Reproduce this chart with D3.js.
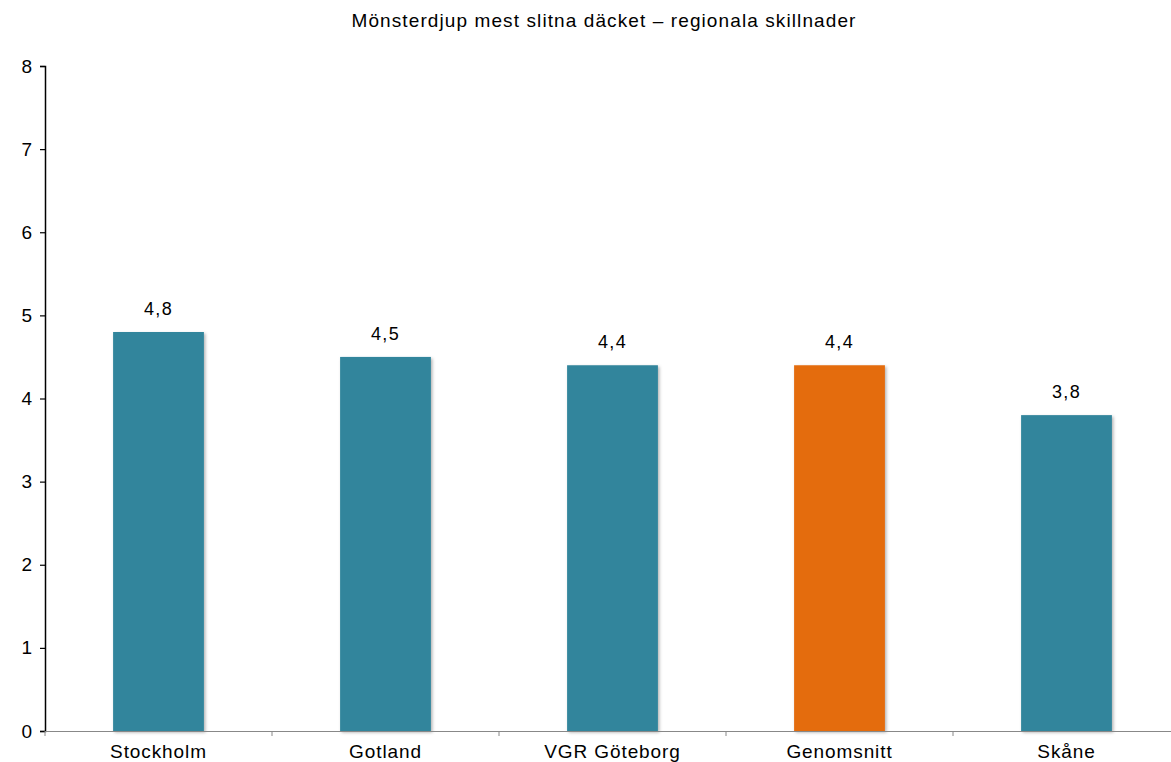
<!DOCTYPE html>
<html><head><meta charset="utf-8">
<script src="https://cdn.jsdelivr.net/npm/d3@7"></script>
<style>body{margin:0;background:#fff}svg{display:block}text{font-family:"Liberation Sans",Arial,sans-serif;fill:#000}</style>
</head><body>
<svg id="c" width="1171" height="762"></svg>
<script>
const categories = ["Stockholm","Gotland","VGR Göteborg","Genomsnitt","Skåne"];
const values = [4.8,4.5,4.4,4.4,3.8];
const labels = ["4,8","4,5","4,4","4,4","3,8"];
const highlight = ["Genomsnitt"];
const yTicks = [0,1,2,3,4,5,6,7,8];
const title = "Mönsterdjup mest slitna däcket – regionala skillnader";

const svg = d3.select("#c");
const defs = svg.append("defs");
const f = defs.append("filter").attr("id","sh").attr("x","-20%").attr("y","-20%").attr("width","140%").attr("height","140%");
f.append("feDropShadow").attr("dx",1.5).attr("dy",1.5).attr("stdDeviation",1.5).attr("flood-color","#000").attr("flood-opacity",0.3);

const x = d3.scaleBand().domain(categories).range([45,1180]).paddingInner(0.6).paddingOuter(0.3);
const y = d3.scaleLinear().domain([0,8]).range([731,66]);

svg.append("text").attr("x",604).attr("y",27).attr("text-anchor","middle").attr("font-size",19).attr("letter-spacing",1.1).text(title);

// y axis
const ya = svg.append("g").attr("transform","translate(45,0)").call(d3.axisLeft(y).tickValues(yTicks).tickSize(5).tickPadding(8));
ya.selectAll("text").attr("font-size",19).attr("font-family","Liberation Sans, Arial, sans-serif");
ya.select(".domain").attr("stroke","#000").attr("stroke-width",1.5);
ya.selectAll(".tick line").attr("stroke","#000").attr("stroke-width",1.2);

// bars
svg.append("g").selectAll("rect").data(categories).join("rect")
  .attr("x",d=>x(d)).attr("width",x.bandwidth())
  .attr("y",(d,i)=>y(values[i])).attr("height",(d,i)=>y(0)-y(values[i]))
  .attr("fill",d=>highlight.includes(d)?"#E46C0A":"#31859C")
  .attr("filter","url(#sh)");

// x axis
const xa = svg.append("g");
xa.append("line").attr("x1",45).attr("x2",1171).attr("y1",y(0)+0.5).attr("y2",y(0)+0.5).attr("stroke","#888").attr("stroke-width",1.2);
const bounds = d3.range(categories.length+1).map(i=>45+i*((1180-45)/categories.length));
xa.selectAll("line.t").data(bounds).join("line").attr("class","t")
  .attr("x1",d=>d).attr("x2",d=>d).attr("y1",y(0)).attr("y2",y(0)+5).attr("stroke","#888");
xa.selectAll("text").data(categories).join("text")
  .attr("x",d=>x(d)+x.bandwidth()/2).attr("y",758).attr("text-anchor","middle").attr("font-size",19).attr("letter-spacing",0.9).text(d=>d);

// value labels
svg.append("g").selectAll("text").data(categories).join("text")
  .attr("x",d=>x(d)+x.bandwidth()/2).attr("y",(d,i)=>y(values[i])-17)
  .attr("text-anchor","middle").attr("font-size",18).attr("letter-spacing",1.3).text((d,i)=>labels[i]);
</script>
</body></html>
